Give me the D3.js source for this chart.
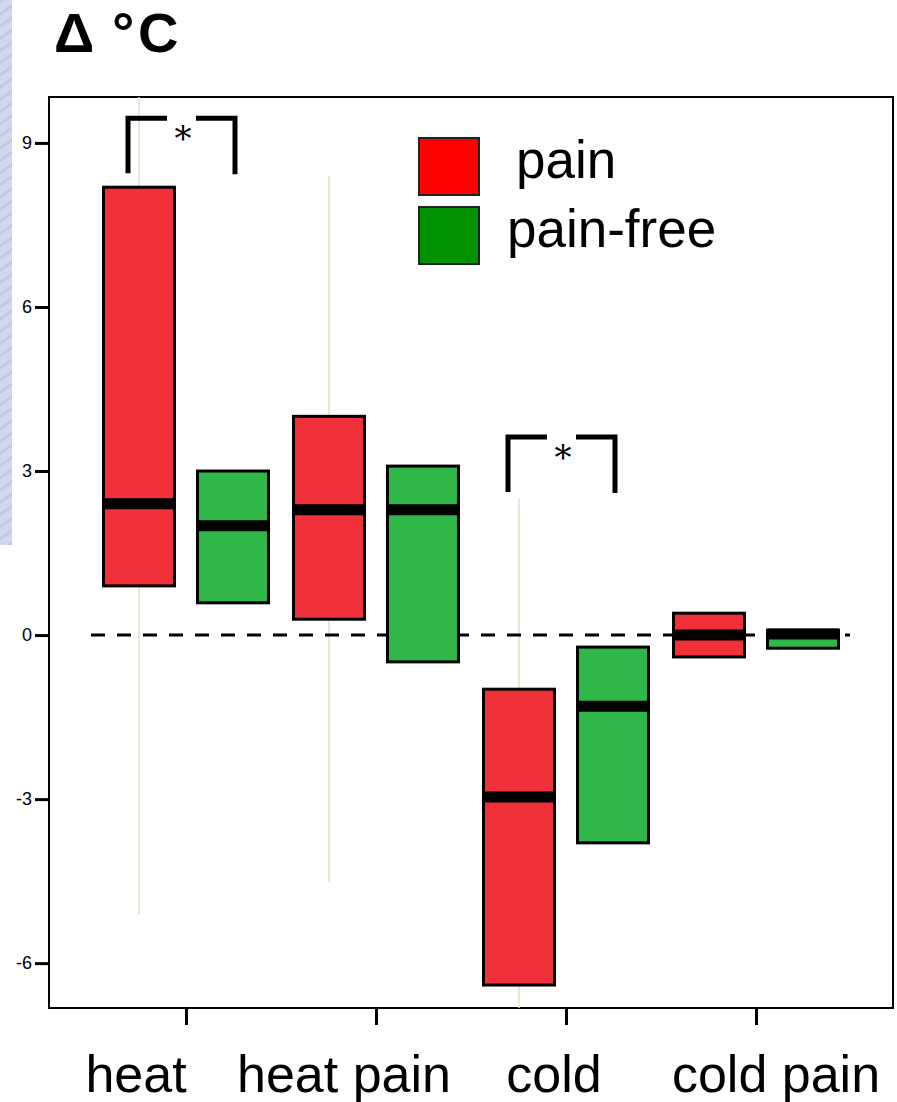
<!DOCTYPE html>
<html>
<head>
<meta charset="utf-8">
<script src="https://cdn.jsdelivr.net/npm/d3@7"></script>
<style>
  html, body { margin: 0; padding: 0; background: #fff; }
  svg { display: block; font-family: "Liberation Sans", Arial, sans-serif; }
</style>
</head>
<body>
<svg id="chart" width="897" height="1102"></svg>
<script>
// ---------- data ----------
const categories = ["heat", "heat pain", "cold", "cold pain"];
const groups = ["pain", "pain-free"];
// box statistics (°C change)
const painQ1     = [0.90, 0.29, -6.40, -0.40];
const painMedian = [2.40, 2.29, -2.96,  0.00];
const painQ3     = [8.19, 4.00, -0.99,  0.40];
const painWhiskLo = [-5.10, -4.52, -7.50, null];
const painWhiskHi = [10.0,  8.40,  2.50, null];
const freeQ1     = [0.59, -0.49, -3.80, -0.24];
const freeMedian = [2.00,  2.29, -1.30,  0.02];
const freeQ3     = [3.00,  3.09, -0.22,  0.09];
const yTicks = [-6, -3, 0, 3, 6, 9];
const significant = ["heat", "cold"];
const sigBracketValue = [9.45, 3.62];

// ---------- layout ----------
const W = 897, H = 1102;
const plot = { left: 49, top: 97, right: 893, bottom: 1008 };
const svg = d3.select("#chart");

// left-edge background texture strip
const defs = svg.append("defs");
const pat = defs.append("pattern").attr("id", "tex").attr("patternUnits", "userSpaceOnUse")
  .attr("width", 12).attr("height", 10).attr("patternTransform", "rotate(-35)");
pat.append("rect").attr("width", 12).attr("height", 10).attr("fill", "#d2d9ee");
pat.append("rect").attr("width", 12).attr("height", 3).attr("fill", "#c0c9e6");
svg.append("rect").attr("x", 0).attr("y", 0).attr("width", 12).attr("height", 545).attr("fill", "url(#tex)");

defs.append("clipPath").attr("id", "plotclip").append("rect")
  .attr("x", plot.left).attr("y", plot.top)
  .attr("width", plot.right - plot.left).attr("height", plot.bottom - plot.top);

const y = d3.scaleLinear().domain([-6.82, 9.84]).range([plot.bottom, plot.top]);
const x = d3.scalePoint().domain(categories).range([186, 756]);
const off = { "pain": -47, "pain-free": 47 };
const boxW = 71;
const colors = { "pain": "#f0313a", "pain-free": "#2fb74a" };
const legendColors = { "pain": "#ff0000", "pain-free": "#009100" };

// title
const title = svg.append("text").attr("y", 52).attr("font-size", 56).attr("font-weight", "bold");
title.append("tspan").attr("x", 54).text("Δ");
title.append("tspan").attr("x", 112).text("°");
title.append("tspan").attr("x", 138).text("C");

// frame
svg.append("rect").attr("x", plot.left).attr("y", plot.top)
  .attr("width", plot.right - plot.left).attr("height", plot.bottom - plot.top)
  .attr("fill", "#fff").attr("stroke", "#000").attr("stroke-width", 2);

// y axis
const yAxis = d3.axisLeft(y).tickValues(yTicks).tickSize(14).tickPadding(3).tickFormat(d => String(d));
const gy = svg.append("g").attr("transform", `translate(${plot.left},0)`).call(yAxis);
gy.attr("font-size", null).attr("font-family", null);
gy.select(".domain").remove();
gy.selectAll(".tick line").attr("stroke", "#000").attr("stroke-width", 3);
gy.selectAll(".tick text").style("font-size", "18px").attr("fill", "#000")
  .style("font-family", "Liberation Sans, Arial, sans-serif");

// x axis
const xAxis = d3.axisBottom(x).tickSize(17).tickFormat("");
const gx = svg.append("g").attr("transform", `translate(0,${plot.bottom})`).call(xAxis);
gx.select(".domain").remove();
gx.selectAll(".tick line").attr("stroke", "#000").attr("stroke-width", 3);

// x labels (shifted slightly from tick as in original)
const labelShift = [-50, -32, -12, 20];
svg.append("g").selectAll("text").data(categories).join("text")
  .attr("x", (d, i) => x(d) + labelShift[i]).attr("y", 1092)
  .attr("text-anchor", "middle").attr("font-size", 52).attr("fill", "#000")
  .text(d => d);

const plotG = svg.append("g").attr("clip-path", "url(#plotclip)");

// whiskers (pain group)
plotG.selectAll("line.whisk").data(categories.map((c, i) => ({ c, lo: painWhiskLo[i], hi: painWhiskHi[i] })).filter(d => d.lo !== null))
  .join("line").attr("class", "whisk")
  .attr("x1", d => x(d.c) + off.pain).attr("x2", d => x(d.c) + off.pain)
  .attr("y1", d => y(d.hi)).attr("y2", d => y(d.lo))
  .attr("stroke", "#e2dfc4").attr("stroke-width", 1.5);

// zero dashed line
plotG.append("line").attr("x1", 91).attr("x2", 850).attr("y1", y(0)).attr("y2", y(0))
  .attr("stroke", "#000").attr("stroke-width", 3).attr("stroke-dasharray", "14,12");

// boxes
const boxes = [];
categories.forEach((c, i) => {
  boxes.push({ c, g: "pain", q1: painQ1[i], med: painMedian[i], q3: painQ3[i] });
  boxes.push({ c, g: "pain-free", q1: freeQ1[i], med: freeMedian[i], q3: freeQ3[i] });
});
const bg = plotG.selectAll("g.box").data(boxes).join("g").attr("class", "box");
bg.append("rect")
  .attr("x", d => x(d.c) + off[d.g] - boxW / 2).attr("width", boxW)
  .attr("y", d => y(d.q3)).attr("height", d => y(d.q1) - y(d.q3))
  .attr("fill", d => colors[d.g]).attr("stroke", "#000").attr("stroke-width", 3);
bg.append("line")
  .attr("x1", d => x(d.c) + off[d.g] - boxW / 2).attr("x2", d => x(d.c) + off[d.g] + boxW / 2)
  .attr("y1", d => y(d.med)).attr("y2", d => y(d.med))
  .attr("stroke", "#000").attr("stroke-width", 11);

// significance brackets
significant.forEach((c, i) => {
  const yv = y(sigBracketValue[i]);
  const xl = x(c) - 58, xr = x(c) + 49, xm = x(c) - 3;
  const g = svg.append("g").attr("stroke", "#000").attr("stroke-width", 5).attr("fill", "none");
  g.append("path").attr("d", `M${xl},${yv + 55} V${yv} H${xl + 39}`);
  g.append("path").attr("d", `M${xr - 39},${yv} H${xr} V${yv + 56}`);
  svg.append("text").attr("x", xm).attr("y", yv + 32).attr("text-anchor", "middle")
    .attr("font-size", 34).attr("font-family", "DejaVu Serif, serif").text("*");
});

// legend
const lg = svg.append("g");
const legendRows = [{ g: "pain", y: 138, tx: 516 }, { g: "pain-free", y: 207, tx: 507 }];
lg.selectAll("rect").data(legendRows).join("rect")
  .attr("x", 419).attr("y", d => d.y).attr("width", 60).attr("height", 57)
  .attr("fill", d => legendColors[d.g]).attr("stroke", "#222").attr("stroke-width", 2);
lg.selectAll("text").data(legendRows).join("text")
  .attr("x", d => d.tx).attr("y", d => d.y + 40).attr("font-size", 53).attr("fill", "#000")
  .text(d => d.g);
</script>
</body>
</html>
